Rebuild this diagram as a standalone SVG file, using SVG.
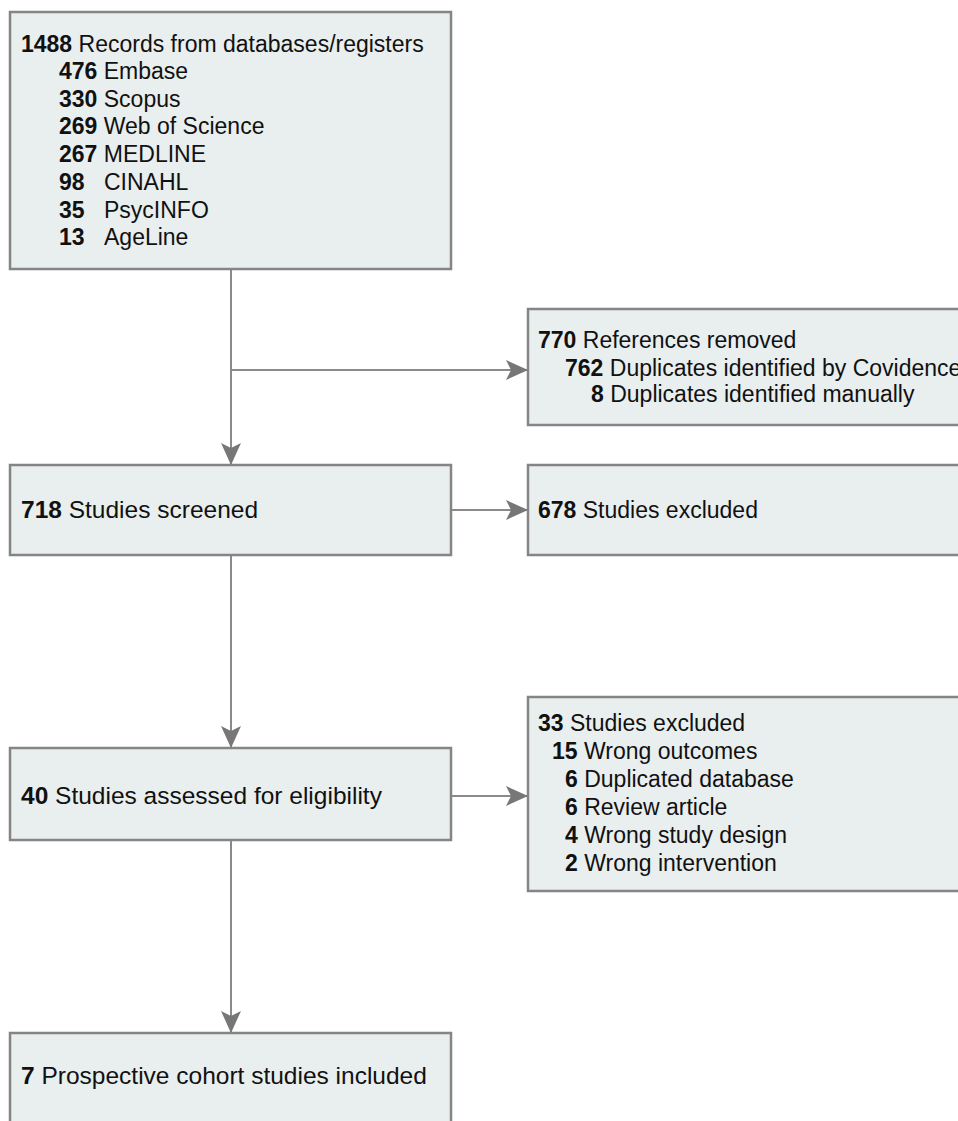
<svg xmlns="http://www.w3.org/2000/svg" width="958" height="1121" viewBox="0 0 958 1121">
<defs>
<style>
.box{fill:#e9eeee;stroke:#858585;stroke-width:2.5}
.t{font-family:"Liberation Sans",Arial,sans-serif;font-size:23px;fill:#111}
.L{font-size:24.5px}
.b{font-weight:bold}
.ln{stroke:#8a8a8a;stroke-width:2;fill:none}
</style>
<marker id="ah" markerUnits="userSpaceOnUse" markerWidth="24" markerHeight="22" refX="22" refY="10" orient="auto" viewBox="0 0 24 22">
<path d="M0,0 L22,10 L0,20 L5,10 Z" fill="#777"/>
</marker>
</defs>
<rect width="958" height="1121" fill="#fff"/>
<g id="connectors">
<line class="ln" x1="231" y1="269" x2="231" y2="465" marker-end="url(#ah)"/>
<line class="ln" x1="231" y1="370" x2="528" y2="370" marker-end="url(#ah)"/>
<line class="ln" x1="452" y1="510" x2="528" y2="510" marker-end="url(#ah)"/>
<line class="ln" x1="231" y1="555" x2="231" y2="748" marker-end="url(#ah)"/>
<line class="ln" x1="452" y1="796" x2="528" y2="796" marker-end="url(#ah)"/>
<line class="ln" x1="231" y1="840" x2="231" y2="1033" marker-end="url(#ah)"/>
</g>
<g id="records">
<rect class="box" x="10" y="12" width="441" height="257"/>
<text class="t" x="21" y="52"><tspan class="b">1488</tspan> Records from databases/registers</text>
<text class="t" x="59" y="79"><tspan class="b">476</tspan> Embase</text>
<text class="t" x="59" y="107"><tspan class="b">330</tspan> Scopus</text>
<text class="t" x="59" y="134"><tspan class="b">269</tspan> Web of Science</text>
<text class="t" x="59" y="162"><tspan class="b">267</tspan> MEDLINE</text>
<text class="t" x="59" y="190"><tspan class="b">98</tspan></text><text class="t" x="104" y="190">CINAHL</text>
<text class="t" x="59" y="218"><tspan class="b">35</tspan></text><text class="t" x="104" y="218">PsycINFO</text>
<text class="t" x="59" y="245"><tspan class="b">13</tspan></text><text class="t" x="104" y="245">AgeLine</text>
</g>
<g id="removed">
<rect class="box" x="528" y="309" width="440" height="116"/>
<text class="t" x="538" y="348"><tspan class="b">770</tspan> References removed</text>
<text class="t" x="565" y="376"><tspan class="b">762</tspan> Duplicates identified by Covidence</text>
<text class="t" x="591" y="402"><tspan class="b">8</tspan> Duplicates identified manually</text>
</g>
<g id="screened">
<rect class="box" x="10" y="465" width="441" height="90"/>
<text class="t L" x="21" y="518"><tspan class="b">718</tspan> Studies screened</text>
</g>
<g id="excluded1">
<rect class="box" x="528" y="465" width="440" height="90"/>
<text class="t" x="538" y="518"><tspan class="b">678</tspan> Studies excluded</text>
</g>
<g id="assessed">
<rect class="box" x="10" y="748" width="441" height="92"/>
<text class="t L" x="21" y="804"><tspan class="b">40</tspan> Studies assessed for eligibility</text>
</g>
<g id="excluded2">
<rect class="box" x="528" y="697" width="440" height="194"/>
<text class="t" x="538" y="731"><tspan class="b">33</tspan> Studies excluded</text>
<text class="t" x="552" y="759"><tspan class="b">15</tspan> Wrong outcomes</text>
<text class="t" x="565" y="787"><tspan class="b">6</tspan> Duplicated database</text>
<text class="t" x="565" y="815"><tspan class="b">6</tspan> Review article</text>
<text class="t" x="565" y="843"><tspan class="b">4</tspan> Wrong study design</text>
<text class="t" x="565" y="871"><tspan class="b">2</tspan> Wrong intervention</text>
</g>
<g id="included">
<rect class="box" x="10" y="1033" width="441" height="100"/>
<text class="t L" x="21" y="1084"><tspan class="b">7</tspan> Prospective cohort studies included</text>
</g>
</svg>
